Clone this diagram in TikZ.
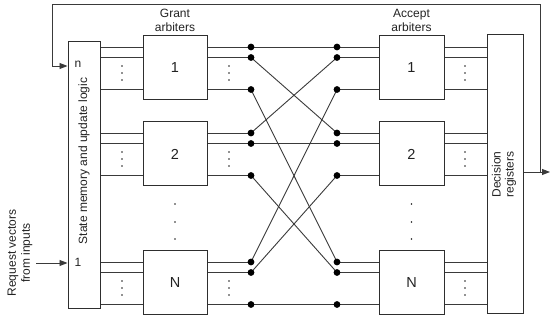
\documentclass[tikz,border=0pt]{standalone}
\usepackage{fontspec}
\setmainfont{Liberation Sans}
\usetikzlibrary{arrows.meta,calc}
\definecolor{linec}{HTML}{3A3A3A}
\definecolor{boxc}{HTML}{2E2E2E}
\definecolor{txt}{HTML}{222222}
\begin{document}
\begin{tikzpicture}[x=1pt,y=-1pt,
  ln/.style={draw=linec, line width=0.9pt},
  box/.style={draw=boxc, line width=1pt, minimum width=64pt, minimum height=64pt, inner sep=0pt, font=\fontsize{14.5}{16}\selectfont, text=txt},
  tall/.style={draw=boxc, line width=1pt, inner sep=0pt, text=txt},
  jd/.style={circle, fill=black, inner sep=0pt, minimum size=6.8pt},
  sd/.style={circle, fill=txt, inner sep=0pt, minimum size=1.6pt},
  vd/.style={circle, fill=txt, inner sep=0pt, minimum size=1.9pt},
  lbl/.style={font=\fontsize{12}{14}\selectfont, text=txt, align=center},
  arr/.style={ln, -{Triangle[length=8pt,width=6pt]}}
]
\useasboundingbox (0,0) rectangle (550,320);

% main boxes
\node[tall, minimum width=32pt, minimum height=267pt] (sm) at (84,175.5) {};
\node[lbl, rotate=90] (smt) at (84,161) {State memory and update logic};
\node[tall, minimum width=36pt, minimum height=279pt] (dr) at (505,174.5) {};
\node[lbl, rotate=90, font=\fontsize{12}{13}\selectfont] (drt) at (504,174.5) {Decision\\registers};

% arbiters
\node[box] (g1) at (175,68) {1};
\node[box] (g2) at (175,154) {2};
\node[box] (g3) at (175,283) {N};
\node[box, minimum width=65pt] (a1) at (411.5,68) {1};
\node[box, minimum width=65pt] (a2) at (411.5,154) {2};
\node[box, minimum width=65pt] (a3) at (411.5,283) {N};

\node[lbl] (gt) at (175,20) {Grant\\arbiters};
\node[lbl] (at) at (411.5,20) {Accept\\arbiters};

% vertical dots between arbiters
\foreach \yy in {204,222,239}{
  \node[vd] at (175,\yy) {};
  \node[vd] at (411.5,\yy) {};
}

% row lines
\foreach \r/\yb in {1/47,2/133,3/262}{
  \foreach \k/\o in {1/0,2/10.5,3/42.5}{
    \coordinate (gl\r\k) at (251,\yb+\o);
    \coordinate (ar\r\k) at (337,\yb+\o);
    \draw[ln] (sm.east |- gl\r\k) -- (g\r.west |- gl\r\k);
    \draw[ln] (g\r.east |- gl\r\k) -- (gl\r\k);
    \draw[ln] (ar\r\k) -- (a\r.west |- ar\r\k);
    \draw[ln] (a\r.east |- ar\r\k) -- (dr.west |- ar\r\k);
  }
  \foreach \o in {19,26,33}{
    \node[sd] at (122,\yb+\o) {};
    \node[sd] at (229,\yb+\o) {};
    \node[sd] at (465,\yb+\o) {};
  }
}

% crossbar connections
\foreach \r in {1,2,3}{
  \foreach \k in {1,2,3}{
    \draw[ln] (gl\r\k) -- (ar\k\r);
  }
}
\foreach \r in {1,2,3}{
  \foreach \k in {1,2,3}{
    \node[jd] (jgl\r\k) at (gl\r\k) {};
    \node[jd] (jar\r\k) at (ar\r\k) {};
  }
}

% feedback loop
\coordinate (outend) at (550,172);
\coordinate (br) at (540,172);
\coordinate (tr) at (540,4);
\coordinate (tl) at (52,4);
\coordinate (nin) at (52,66);
\draw[arr] (dr.east |- outend) -- (outend);
\draw[arr] (br) -- (tr) -- (tl) -- (nin) -- (sm.west |- nin);
\node[lbl, anchor=west] (nl) at (71,64) {n};

% request input
\coordinate (rin) at (36,263);
\draw[arr] (rin) -- (sm.west |- rin);
\node[lbl, anchor=west] (onel) at (71,262) {1};
\node[lbl, rotate=90] (req) at (20,253) {Request vectors\\from inputs};
\end{tikzpicture}
\end{document}
